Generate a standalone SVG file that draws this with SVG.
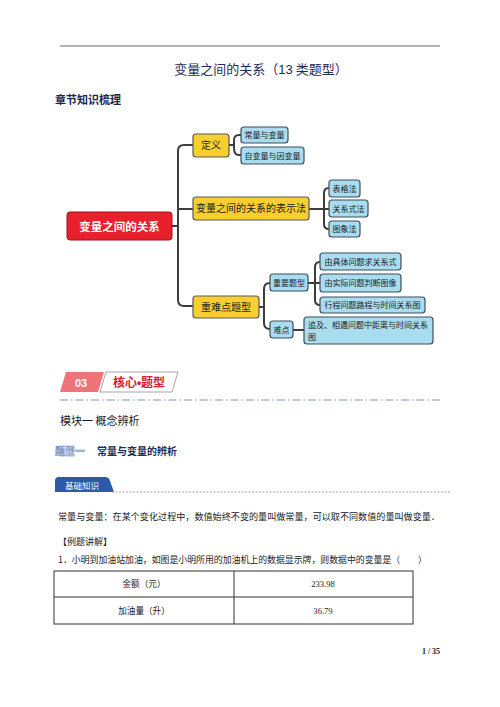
<svg xmlns="http://www.w3.org/2000/svg" width="500" height="707" viewBox="0 0 500 707">
<style>
.serif{font-family:"Noto Sans CJK SC","Liberation Serif",serif}
.sans{font-family:"Noto Sans CJK SC","Noto Sans",sans-serif}
.yel{fill:#f8cf2e;stroke:#5a5a5a;stroke-width:1.2}
.blu{fill:#a9dcef;stroke:#3c4f5c;stroke-width:1.2}
.conn{fill:none;stroke:#3d3d3d;stroke-width:2;stroke-linecap:round}
.nt{font-family:"Noto Sans CJK SC",sans-serif;font-size:8px;fill:#222}
.yt{font-family:"Noto Sans CJK SC",sans-serif;font-size:10px;fill:#222}
</style>
<rect width="500" height="707" fill="#fff"/>
<line x1="60" y1="46" x2="440" y2="46" stroke="#6b6b6b" stroke-width="1.2"/>
<text x="261" y="74" text-anchor="middle" class="serif" font-size="13" fill="#1f2b56">变量之间的关系（<tspan font-family="Liberation Sans Narrow,Liberation Sans,sans-serif">13</tspan> 类题型）</text>
<text x="55" y="104" class="sans" font-size="11" font-weight="bold" fill="#1b2550">章节知识梳理</text>

<g id="connectors">
<path class="conn" d="M172 226 H178 M184 145 H193 M178 209 H193 M184 306 H193 M184 145 Q178 145 178 151 V300 Q178 306 184 306"/>
<path class="conn" d="M229 145 H234 M239 135 Q234 135 234 140 V148 Q234 155 239 155 H241 M239 135 H241"/>
<path class="conn" d="M309 209 H329 M329 188 Q324 188 324 193 V224 Q324 229 329 229"/>
<path class="conn" d="M259 307 H264 M270 283 Q264 283 264 289 V323 Q264 329 270 329"/>
<path class="conn" d="M308 283 H320 M320 262 Q315 262 315 267 V300 Q315 305 320 305"/>
<path class="conn" d="M293 330 H304"/>
</g>

<g id="root"><rect x="67" y="212" width="105" height="28" rx="3" fill="#e8202e" stroke="#a01018" stroke-width="1"/><text x="119.5" y="230.5" text-anchor="middle" class="sans" font-size="11.5" font-weight="bold" fill="#fff">变量之间的关系</text></g>
<g id="n-def"><rect class="yel" x="193" y="134" width="36" height="23" rx="3"/><text class="yt" x="211" y="149" text-anchor="middle">定义</text></g>
<g id="n-c1"><rect class="blu" x="241" y="127" width="47" height="16" rx="3"/><text class="nt" x="264.5" y="138" text-anchor="middle">常量与变量</text></g>
<g id="n-c2"><rect class="blu" x="241" y="147" width="63" height="17" rx="3"/><text class="nt" x="272.5" y="158.5" text-anchor="middle">自变量与因变量</text></g>
<g id="n-rep"><rect class="yel" x="193" y="197" width="116" height="23" rx="3"/><text class="yt" x="251" y="212" text-anchor="middle" font-size="9.6">变量之间的关系的表示法</text></g>
<g id="n-r1"><rect class="blu" x="329" y="180" width="31" height="17" rx="3"/><text class="nt" x="344.5" y="191.5" text-anchor="middle">表格法</text></g>
<g id="n-r2"><rect class="blu" x="329" y="200" width="39" height="17" rx="3"/><text class="nt" x="348.5" y="211.5" text-anchor="middle">关系式法</text></g>
<g id="n-r3"><rect class="blu" x="329" y="221" width="31" height="16" rx="3"/><text class="nt" x="344.5" y="232" text-anchor="middle">图象法</text></g>
<g id="n-key"><rect class="yel" x="193" y="296" width="66" height="22" rx="3"/><text class="yt" x="226" y="310.5" text-anchor="middle">重难点题型</text></g>
<g id="n-imp"><rect class="blu" x="270" y="274" width="38" height="17" rx="3"/><text class="nt" x="289" y="285.5" text-anchor="middle">重要题型</text></g>
<g id="n-i1"><rect class="blu" x="320" y="253" width="81" height="17" rx="3"/><text class="nt" x="360.5" y="264.5" text-anchor="middle">由具体问题求关系式</text></g>
<g id="n-i2"><rect class="blu" x="320" y="274" width="81" height="18" rx="3"/><text class="nt" x="360.5" y="286" text-anchor="middle">由实际问题判断图像</text></g>
<g id="n-i3"><rect class="blu" x="320" y="297" width="105" height="16" rx="3"/><text class="nt" x="372.5" y="308" text-anchor="middle">行程问题路程与时间关系图</text></g>
<g id="n-diff"><rect class="blu" x="270" y="321" width="23" height="17" rx="3"/><text class="nt" x="281.5" y="332.5" text-anchor="middle">难点</text></g>
<g id="n-d1"><rect class="blu" x="304" y="317" width="129" height="27" rx="3"/><text class="nt" x="308" y="328">追及、相遇问题中距离与时间关系</text><text class="nt" x="308" y="339.5">图</text></g>

<g id="section">
<polygon points="66,372 104,372 98,392 60,392" fill="#f0737a"/>
<text x="81" y="387" text-anchor="middle" font-family="Liberation Sans,sans-serif" font-size="11" font-weight="bold" fill="#fff">03</text>
<polygon points="106,372 178,372 172,392 100,392" fill="#fff" stroke="#8a8a9a" stroke-width="0.8"/>
<text x="139" y="387" text-anchor="middle" class="sans" font-size="12" font-weight="bold" fill="#d81e2a">核心<tspan font-family="Liberation Sans,sans-serif">•</tspan>题型</text>
<line x1="60" y1="400" x2="443" y2="400" stroke="#8094b4" stroke-width="1.2" stroke-dasharray="8,3,1.5,3"/>
</g>
<text x="60" y="425" class="serif" font-size="11" fill="#222">模块一 概念辨析</text>
<text x="55" y="455" class="sans" font-size="10" font-weight="bold" fill="#c8d4ea" stroke="#5a7ab0" stroke-width="0.4">题型一</text>
<text x="97" y="455" class="sans" font-size="10" font-weight="bold" fill="#1b2a5c">常量与变量的辨析</text>

<g id="tab">
<path d="M55 492 V481 Q55 477 59 477 H105 Q109 477 110 481 L114 492 Z" fill="#2b5aa8"/>
<text x="82" y="488.5" text-anchor="middle" class="sans" font-size="8.5" fill="#fff">基础知识</text>
<line x1="112" y1="492" x2="450" y2="492" stroke="#8a8a8a" stroke-width="0.8" stroke-dasharray="2,1.5"/>
</g>
<text x="58" y="520" class="serif" font-size="9.1" fill="#222">常量与变量：在某个变化过程中，数值始终不变的量叫做常量，可以取不同数值的量叫做变量．</text>
<text x="58" y="545" class="serif" font-size="9" fill="#222">【例题讲解】</text>
<text x="58" y="563" class="serif" font-size="8.9" fill="#222">1．小明到加油站加油，如图是小明所用的加油机上的数据显示牌，则数据中的变量是（　　）</text>

<g id="table" stroke="#333" stroke-width="1" fill="none">
<rect x="54" y="571" width="359" height="53"/>
<line x1="54" y1="597" x2="413" y2="597"/>
<line x1="234" y1="571" x2="234" y2="624"/>
</g>
<g class="serif" font-size="8.6" fill="#222" text-anchor="middle">
<text x="144" y="587">金额（元）</text>
<text x="323" y="587" font-family="Liberation Serif,serif">233.98</text>
<text x="144" y="614">加油量（升）</text>
<text x="323" y="614" font-family="Liberation Serif,serif">36.79</text>
</g>
<text x="431" y="654" text-anchor="middle" font-family="Liberation Serif,serif" font-size="8" font-weight="bold" fill="#222">1 / 35</text>
</svg>
